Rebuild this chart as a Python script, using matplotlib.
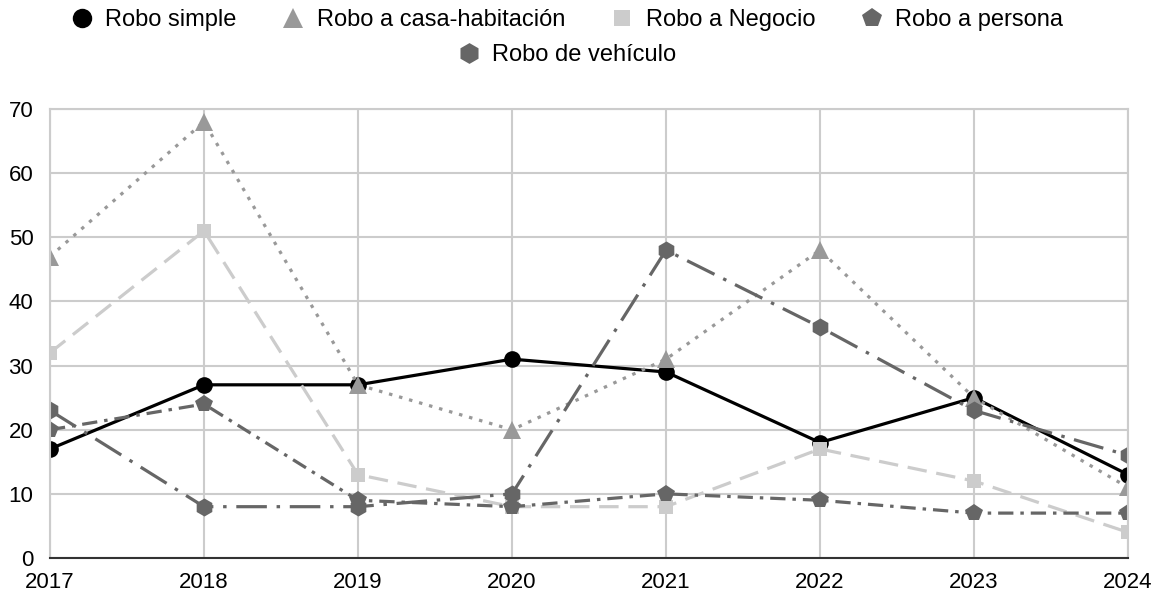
import matplotlib.pyplot as plt
from matplotlib.lines import Line2D

plt.rcParams['font.family'] = ['Liberation Sans', 'DejaVu Sans']
plt.rcParams['lines.scale_dashes'] = False

years = [2017, 2018, 2019, 2020, 2021, 2022, 2023, 2024]
robo_simple = [17, 27, 27, 31, 29, 18, 25, 13]
robo_casa = [47, 68, 27, 20, 31, 48, 25, 11]
robo_negocio = [32, 51, 13, 8, 8, 17, 12, 4]
robo_persona = [20, 24, 9, 8, 10, 9, 7, 7]
robo_vehiculo = [23, 8, 8, 10, 48, 36, 23, 16]

labels = ['Robo simple', 'Robo a casa-habitación', 'Robo a Negocio',
          'Robo a persona', 'Robo de vehículo']

# (data, color, marker, markersize, dash pattern in points)
series = [
    (robo_simple, '#000000', 'o', 12, None),
    (robo_casa, '#999999', '^', 13, (2.5, 5)),
    (robo_negocio, '#cccccc', 's', 10, (14, 7)),
    (robo_persona, '#666666', 'p', 13, (11, 5, 2.5, 5)),
    (robo_vehiculo, '#666666', 'h', 13, (22, 7, 2.5, 7)),
]

fig = plt.figure(figsize=(11.66, 6.02), dpi=100)
ax = fig.add_axes([50 / 1166, 44 / 602, 1078 / 1166, 449 / 602])

handles = []
for (vals, color, marker, ms, dashes), label in zip(series, labels):
    line, = ax.plot(years, vals, color=color, lw=2.3, marker=marker, ms=ms,
                    markeredgewidth=0, label=label)
    if dashes:
        line.set_dashes(dashes)
    handles.append(Line2D([], [], color=color, marker=marker, ms=ms + 2,
                          markeredgewidth=0, linestyle='none'))

ax.set_xlim(2017, 2024)
ax.set_ylim(0, 70)
ax.set_xticks(years)
ax.set_yticks(range(0, 71, 10))
ax.grid(True, color='#cccccc', lw=1.5)
ax.set_axisbelow(True)
for pos in ('top', 'right', 'left'):
    ax.spines[pos].set_color('#cccccc')
    ax.spines[pos].set_linewidth(1.5)
ax.spines['bottom'].set_color('#333333')
ax.spines['bottom'].set_linewidth(1.5)
ax.tick_params(axis='both', length=0, labelsize=16, colors='#000000')
ax.tick_params(axis='y', pad=12)
ax.tick_params(axis='x', pad=10)

fig.legend(handles[:4], labels[:4], loc='center', ncol=4,
           bbox_to_anchor=(0.485, 1 - 20 / 602), frameon=False,
           fontsize=17, handletextpad=0.4, columnspacing=1.8,
           handlelength=1.2)
fig.legend(handles[4:], labels[4:], loc='center', ncol=1,
           bbox_to_anchor=(0.485, 1 - 55 / 602), frameon=False,
           fontsize=17, handletextpad=0.4, handlelength=1.2)

fig.savefig('out.png', dpi=100)
